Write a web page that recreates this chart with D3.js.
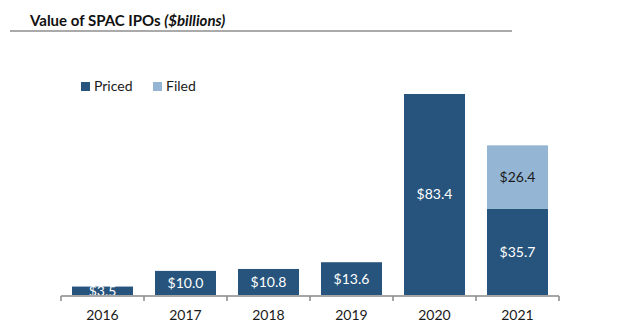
<!DOCTYPE html>
<html>
<head>
<meta charset="utf-8">
<script src="https://cdn.jsdelivr.net/npm/d3@7"></script>
<style>
  body { margin: 0; background: #fff; }
  svg { display: block; font-family: Lato, "Open Sans", sans-serif; }
</style>
</head>
<body>
<div id="chart"></div>
<script>
const years = ["2016", "2017", "2018", "2019", "2020", "2021"];
const priced = [3.5, 10.0, 10.8, 13.6, 83.4, 35.7];
const filed = [0, 0, 0, 0, 0, 26.4];
const seriesNames = ["Priced", "Filed"];

const colors = { Priced: "#27547c", Filed: "#94b6d4" };

const width = 617, height = 333;
const baseline = 295;

const svg = d3.select("#chart").append("svg")
    .attr("width", width)
    .attr("height", height);

// title
const title = svg.append("text")
    .attr("x", 30)
    .attr("y", 26)
    .style("font-size", "15px")
    .style("font-weight", "bold")
    .attr("fill", "#111");
title.append("tspan").text("Value of SPAC IPOs ");
title.append("tspan").style("font-style", "italic").text("($billions)");

svg.append("line")
    .attr("x1", 10).attr("x2", 512)
    .attr("y1", 31).attr("y2", 31)
    .attr("stroke", "#aaa")
    .attr("stroke-width", 2);

const x = d3.scaleBand()
    .domain(years)
    .range([61, 559])
    .paddingInner(0.265)
    .paddingOuter(0.1325);

const y = d3.scaleLinear()
    .domain([0, 83.4])
    .range([baseline, 94]);

const table = years.map((yr, i) => ({ year: yr, Priced: priced[i], Filed: filed[i] }));
const stack = d3.stack().keys(seriesNames)(table);

const layers = svg.selectAll("g.layer")
    .data(stack)
    .enter()
    .append("g")
    .attr("class", "layer")
    .attr("fill", d => colors[d.key]);

layers.selectAll("rect")
    .data(d => d.filter(p => p[1] - p[0] > 0))
    .enter()
    .append("rect")
    .attr("x", d => x(d.data.year))
    .attr("y", d => y(d[1]))
    .attr("width", x.bandwidth())
    .attr("height", d => y(d[0]) - y(d[1]));

// value labels
stack.forEach(layer => {
    svg.append("g")
        .selectAll("text")
        .data(layer.filter(p => p[1] - p[0] > 0))
        .enter()
        .append("text")
        .attr("x", d => x(d.data.year) + x.bandwidth() / 2)
        .attr("y", d => (y(d[0]) + y(d[1])) / 2)
        .attr("dy", "0.35em")
        .attr("text-anchor", "middle")
        .style("font-size", "14px")
        .attr("fill", layer.key === "Filed" ? "#1a1a1a" : "#fff")
        .text(d => "$" + (d[1] - d[0]).toFixed(1));
});

// axis
const axis = svg.append("g")
    .attr("transform", `translate(0,${baseline + 1})`);
axis.append("line")
    .attr("x1", 61).attr("x2", 559)
    .attr("stroke", "#888").attr("stroke-width", 1.5);
const edges = years.map(d => x(d) - x.step() * x.paddingInner() / 2).concat([559]);
axis.selectAll("line.tick")
    .data(edges)
    .enter()
    .append("line")
    .attr("class", "tick")
    .attr("x1", d => d).attr("x2", d => d)
    .attr("y1", 0).attr("y2", 5)
    .attr("stroke", "#888").attr("stroke-width", 1.5);
axis.selectAll("text")
    .data(years)
    .enter()
    .append("text")
    .attr("x", d => x(d) + x.bandwidth() / 2)
    .attr("y", 24)
    .attr("text-anchor", "middle")
    .style("font-size", "14px")
    .attr("fill", "#1a1a1a")
    .text(d => d);

// legend
const legend = svg.append("g").attr("transform", "translate(81,82)");
const item = legend.selectAll("g")
    .data(seriesNames)
    .enter()
    .append("g")
    .attr("transform", (d, i) => `translate(${i * 72},0)`);
item.append("rect")
    .attr("width", 9).attr("height", 9)
    .attr("fill", d => colors[d]);
item.append("text")
    .attr("x", 13)
    .attr("y", 4.5)
    .attr("dy", "0.35em")
    .style("font-size", "14px")
    .attr("fill", "#1a1a1a")
    .text(d => d);
</script>
</body>
</html>
